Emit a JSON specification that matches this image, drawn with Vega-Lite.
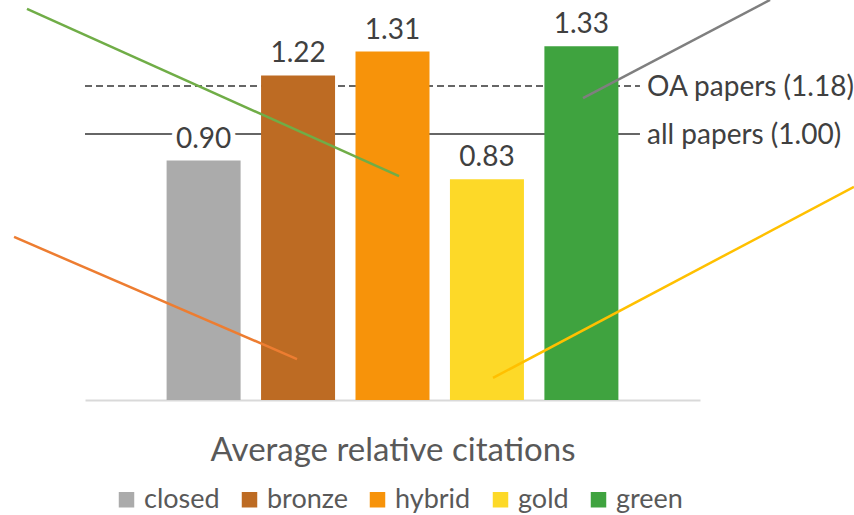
{
  "$schema": "https://vega.github.io/schema/vega-lite/v6.json",
  "width": 615,
  "height": 399,
  "autosize": "none",
  "padding": {"left": 85, "top": 1, "right": 154, "bottom": 115},
  "background": "white",
  "config": {"view": {"stroke": null}, "font": "Lato"},
  "datasets": {
    "citations": [
      {"access": "closed", "value": 0.90},
      {"access": "bronze", "value": 1.22},
      {"access": "hybrid", "value": 1.31},
      {"access": "gold", "value": 0.83},
      {"access": "green", "value": 1.33}
    ],
    "benchmarks": [
      {"line": "OA papers", "value": 1.18, "label": "OA papers (1.18)"},
      {"line": "all papers", "value": 1.00, "label": "all papers (1.00)"}
    ],
    "pointers": [
      {"pointer": "green", "slot": -0.870, "value": 1.470},
      {"pointer": "green", "slot": 3.069, "value": 0.842},
      {"pointer": "grey", "slot": 6.997, "value": 1.504},
      {"pointer": "grey", "slot": 5.017, "value": 1.135},
      {"pointer": "orange", "slot": -1.007, "value": 0.613},
      {"pointer": "orange", "slot": 1.989, "value": 0.154},
      {"pointer": "yellow", "slot": 7.886, "value": 0.801},
      {"pointer": "yellow", "slot": 4.064, "value": 0.083}
    ]
  },
  "layer": [
    {
      "data": {"name": "benchmarks"},
      "mark": {"type": "rule", "color": "#666666", "strokeWidth": 2},
      "encoding": {
        "x": {"datum": -0.2557, "type": "quantitative",
              "scale": {"type": "linear", "domain": [-0.2557, 6.2557], "nice": false, "zero": false},
              "axis": null},
        "x2": {"datum": 5.62},
        "y": {"field": "value", "type": "quantitative",
              "scale": {"domain": [0, 1.5], "nice": false}, "axis": null},
        "strokeDash": {"field": "line", "type": "nominal",
                       "scale": {"domain": ["OA papers", "all papers"], "range": [[7, 4], [1, 0]]},
                       "legend": null}
      }
    },
    {
      "data": {"name": "citations"},
      "encoding": {
        "x": {"field": "access", "type": "nominal",
              "sort": ["closed", "bronze", "hybrid", "gold", "green"],
              "scale": {"paddingInner": 0.2165, "paddingOuter": 0.864},
              "axis": {"labels": false, "ticks": false, "domainColor": "#d9d9d9", "domainWidth": 2,
                       "title": "Average relative citations", "titleFontSize": 33,
                       "titleFontWeight": "normal", "titleColor": "#595959", "titlePadding": 34,
                       "titleFont": "Lato"}},
        "y": {"field": "value", "type": "quantitative"}
      },
      "layer": [
        {
          "mark": {"type": "bar"},
          "encoding": {
            "color": {"field": "access", "type": "nominal",
                      "scale": {"domain": ["closed", "bronze", "hybrid", "gold", "green"],
                                "range": ["#ababab", "#bd6b23", "#f7930a", "#fdd928", "#3fa33f"]},
                      "legend": {"orient": "none", "legendX": 28, "legendY": 485,
                                 "direction": "horizontal", "title": null,
                                 "symbolType": "square", "symbolSize": 240, "symbolStrokeWidth": 0,
                                 "labelFontSize": 27, "labelColor": "#595959", "labelFont": "Lato",
                                 "labelOffset": 4, "columnPadding": 16}}
          }
        },
        {
          "mark": {"type": "text", "dy": -13, "baseline": "alphabetic", "fontSize": 28,
                   "fill": "white", "stroke": "white", "strokeWidth": 10, "strokeJoin": "round"},
          "encoding": {"text": {"field": "value", "type": "quantitative", "format": ".2f"}}
        },
        {
          "mark": {"type": "text", "dy": -13, "baseline": "alphabetic", "fontSize": 28, "color": "#404040"},
          "encoding": {"text": {"field": "value", "type": "quantitative", "format": ".2f"}}
        }
      ]
    },
    {
      "data": {"name": "pointers"},
      "mark": {"type": "line", "strokeWidth": 2.5},
      "encoding": {
        "x": {"field": "slot", "type": "quantitative",
              "scale": {"type": "linear", "domain": [-0.2557, 6.2557], "nice": false, "zero": false},
              "axis": null},
        "y": {"field": "value", "type": "quantitative"},
        "color": {"field": "pointer", "type": "nominal",
                  "scale": {"domain": ["green", "grey", "orange", "yellow"],
                            "range": ["#70ad47", "#7f7f7f", "#ed7d31", "#ffc000"]},
                  "legend": null}
      }
    },
    {
      "data": {"name": "benchmarks"},
      "mark": {"type": "text", "align": "left", "baseline": "alphabetic", "dy": 10,
               "fontSize": 28, "color": "#404040"},
      "encoding": {
        "x": {"datum": 5.695, "type": "quantitative",
              "scale": {"type": "linear", "domain": [-0.2557, 6.2557], "nice": false, "zero": false},
              "axis": null},
        "y": {"field": "value", "type": "quantitative"},
        "text": {"field": "label"}
      }
    }
  ],
  "resolve": {"scale": {"x": "independent", "color": "independent"}, "axis": {"x": "independent"}}
}
